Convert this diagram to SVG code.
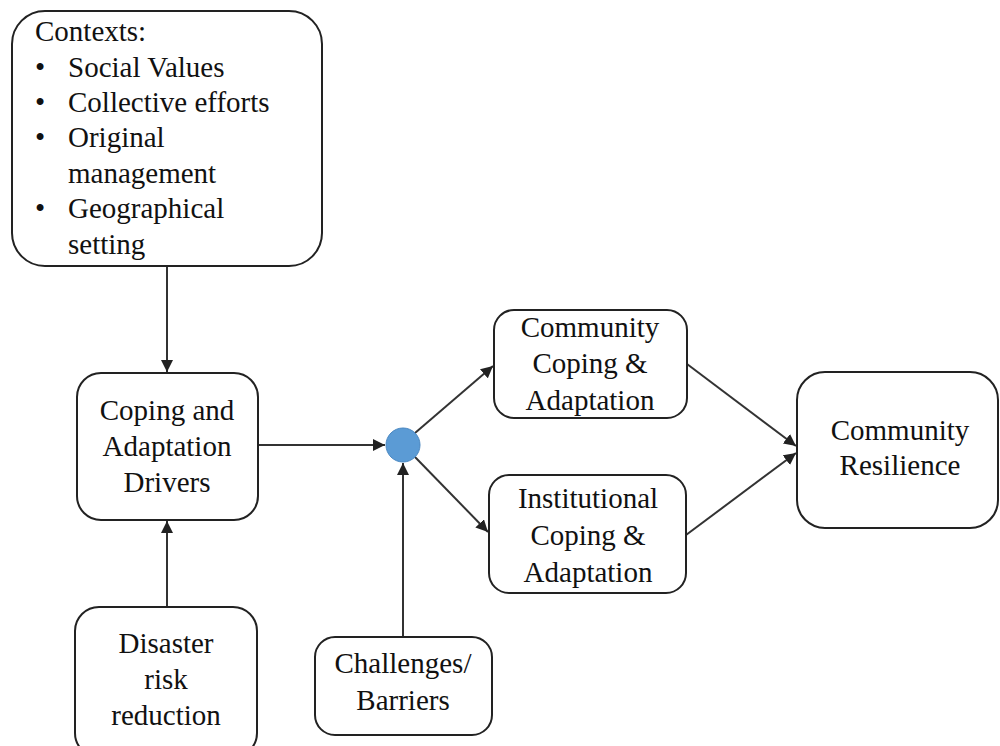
<svg xmlns="http://www.w3.org/2000/svg" width="1000" height="746" viewBox="0 0 1000 746">
<style>
.box{fill:#fff;stroke:#222;stroke-width:2}
.t{font-family:"Liberation Serif","Times New Roman",serif;font-size:29px;fill:#111}
.c{text-anchor:middle}
.ln{stroke:#333;stroke-width:2;fill:none;marker-end:url(#ah)}
</style>
<defs>
<marker id="ah" viewBox="0 0 10 10" refX="10" refY="5" markerWidth="6" markerHeight="6" orient="auto" markerUnits="strokeWidth">
<path d="M0,0 L10,5 L0,10 z" fill="#222"/>
</marker>
</defs>
<rect width="1000" height="746" fill="#fff"/>
<g id="connectors">
<line class="ln" x1="167" y1="267" x2="167" y2="372"/>
<line class="ln" x1="167" y1="607" x2="167" y2="521"/>
<line class="ln" x1="259" y1="445" x2="385" y2="445"/>
<line class="ln" x1="403" y1="637" x2="403" y2="463"/>
<line class="ln" x1="415" y1="433" x2="493" y2="366"/>
<line class="ln" x1="415" y1="457" x2="488" y2="532"/>
<line class="ln" x1="687" y1="364" x2="796" y2="446"/>
<line class="ln" x1="686" y1="535" x2="796" y2="453"/>
</g>
<g id="contexts">
<rect class="box" x="12" y="11" width="310" height="255" rx="33"/>
<text class="t" x="35" y="41">Contexts:</text>
<text class="t" x="35" y="77">•</text>
<text class="t" x="68" y="77">Social Values</text>
<text class="t" x="35" y="112">•</text>
<text class="t" x="68" y="112">Collective efforts</text>
<text class="t" x="35" y="147">•</text>
<text class="t" x="68" y="147">Original</text>
<text class="t" x="68" y="183">management</text>
<text class="t" x="35" y="218">•</text>
<text class="t" x="68" y="218">Geographical</text>
<text class="t" x="68" y="254">setting</text>
</g>
<g id="drivers">
<rect class="box" x="77" y="373" width="181" height="147" rx="24"/>
<text class="t c" x="167" y="420">Coping and</text>
<text class="t c" x="167" y="456">Adaptation</text>
<text class="t c" x="167" y="492">Drivers</text>
</g>
<g id="drr">
<rect class="box" x="75" y="607" width="182" height="150" rx="24"/>
<text class="t c" x="166" y="653">Disaster</text>
<text class="t c" x="166" y="689">risk</text>
<text class="t c" x="166" y="725">reduction</text>
</g>
<g id="challenges">
<rect class="box" x="315" y="637" width="177" height="98" rx="20"/>
<text class="t c" x="403" y="673">Challenges/</text>
<text class="t c" x="403" y="710">Barriers</text>
</g>
<g id="junction">
<circle cx="403" cy="445" r="17" fill="#5B9BD5" stroke="#4A88C2" stroke-width="1"/>
</g>
<g id="community">
<rect class="box" x="494" y="310" width="193" height="108" rx="20"/>
<text class="t c" x="590" y="337">Community</text>
<text class="t c" x="590" y="373">Coping &amp;</text>
<text class="t c" x="590" y="410">Adaptation</text>
</g>
<g id="institutional">
<rect class="box" x="489" y="475" width="197" height="118" rx="20"/>
<text class="t c" x="588" y="508">Institutional</text>
<text class="t c" x="588" y="545">Coping &amp;</text>
<text class="t c" x="588" y="582">Adaptation</text>
</g>
<g id="resilience">
<rect class="box" x="797" y="372" width="201" height="156" rx="28"/>
<text class="t c" x="900" y="440">Community</text>
<text class="t c" x="900" y="475">Resilience</text>
</g>
</svg>
